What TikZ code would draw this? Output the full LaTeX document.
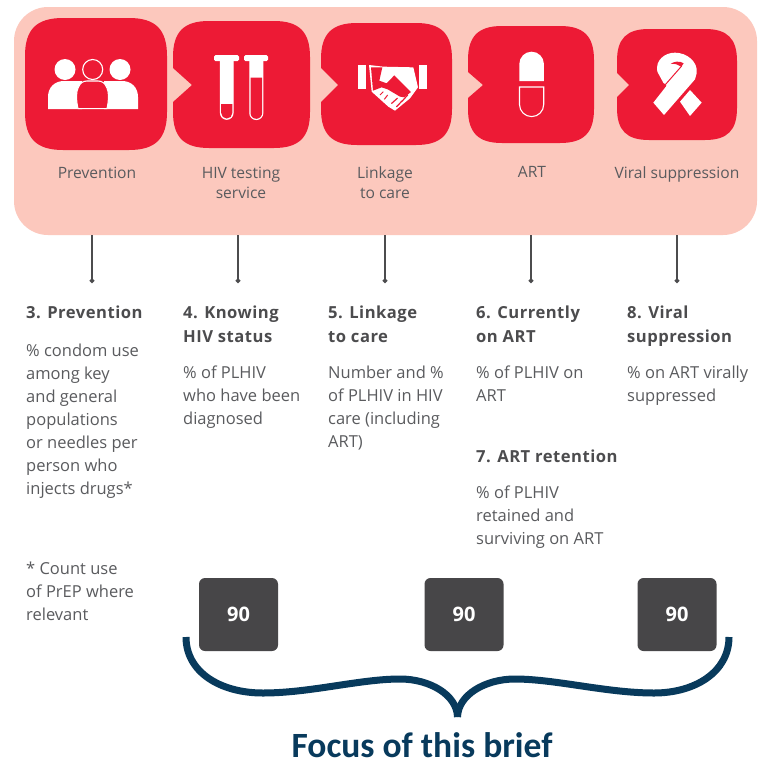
\documentclass[tikz,border=0pt]{standalone}
\usepackage{fontspec}
\usetikzlibrary{arrows.meta}
\setmainfont{Open Sans}
\newfontfamily\focusfont{Carlito}
\newfontfamily\headfont[LetterSpace=3]{Open Sans}
\definecolor{panelc}{HTML}{FCC8BD}
\definecolor{boxred}{HTML}{ED1A35}
\definecolor{txtc}{HTML}{5A5B5E}
\definecolor{headc}{HTML}{4C4C4E}
\definecolor{darkb}{HTML}{474648}
\definecolor{navyc}{HTML}{083A5C}
\newcommand{\redbox}[8]{% x0,y0,x1,y1,r,notch top,tip x,notch bottom
 \fill[boxred] (#1+#5,#2) -- (#3-#5,#2) .. controls (#3-0.3*#5,#2) and (#3,#2+0.3*#5) .. (#3,#2+#5)
  -- (#3,#4-#5) .. controls (#3,#4-0.3*#5) and (#3-0.3*#5,#4) .. (#3-#5,#4)
  -- (#1+#5,#4) .. controls (#1+0.3*#5,#4) and (#1,#4-0.3*#5) .. (#1,#4-#5)
  -- (#1,#8) -- (#7,{(#6+#8)/2}) -- (#1,#6) -- (#1,#2+#5)
  .. controls (#1,#2+0.3*#5) and (#1+0.3*#5,#2) .. (#1+#5,#2) -- cycle;}
\tikzset{
 lbl/.style={text=txtc,font=\fontsize{15.6}{20}\selectfont,align=center,inner sep=0pt,anchor=north},
 head/.style={text=headc,font=\headfont\bfseries\fontsize{16.6}{24}\selectfont,align=left,inner sep=0pt,anchor=north west},
 body/.style={text=txtc,font=\fontsize{16.5}{23}\selectfont,align=left,inner sep=0pt,anchor=north west},
 ninety/.style={fill=darkb,draw=none,rounded corners=6pt,minimum width=79pt,minimum height=73pt,inner sep=0pt,text=white,font=\fontsize{20}{22}\selectfont\bfseries},
 conn/.style={draw=headc,line width=1.4pt,-{Circle[length=4.5pt,width=4.5pt]}},
 whiteline/.style={draw=white,line width=1.1pt}
}
\begin{document}
\begin{tikzpicture}[x=1pt,y=-1pt]
\useasboundingbox (0,0) rectangle (763,761);
\fill[white] (0,0) rectangle (763,761);
\fill[panelc,rounded corners=34pt] (14,7) rectangle (757,235);
% red boxes
\redbox{25}{18}{167}{150}{38}{84}{25}{84}
\redbox{173}{21}{310}{148}{36}{68}{192}{102}
\redbox{321}{23}{452}{145}{36}{68}{338}{102}
\redbox{468}{26}{594}{143}{34}{72}{483}{98}
\redbox{617}{29}{737}{140}{32}{73}{629}{97}
% people icon
\fill[white] (65,69.5) circle (10.5);
\fill[white] (120,69.5) circle (10.5);
\draw[whiteline] (92.7,69.5) circle (10);
\fill[white] (48,109) -- (48,97) .. controls (48,87) and (55,81) .. (64,81) -- (82,81) -- (82,109) -- cycle;
\fill[white] (138,109) -- (138,97) .. controls (138,87) and (131,81) .. (122,81) -- (104,81) -- (104,109) -- cycle;
\filldraw[fill=boxred,whiteline] (78,108.6) .. controls (76,100) and (76,92) .. (78,88) .. controls (80,83) and (83,81) .. (87,81) -- (98,81) .. controls (102,81) and (105,83) .. (107,88) .. controls (109,92) and (109,100) .. (107,108.6) -- cycle;
% tubes
\fill[white,rounded corners=1.5pt] (214,55) rectangle (239,61);
\fill[white,rounded corners=1.5pt] (244,55) rectangle (268,61);
\filldraw[fill=white,whiteline] (220.5,60) -- (233,60) -- (233,113) arc[start angle=0,end angle=180,radius=6.25] -- cycle;
\filldraw[fill=white,whiteline] (249.8,60) -- (262.8,60) -- (262.8,113) arc[start angle=0,end angle=180,radius=6.5] -- cycle;
\fill[boxred] (221.2,104) -- (232.3,104) -- (232.3,113) arc[start angle=0,end angle=180,radius=5.55] -- cycle;
\fill[boxred] (250.5,77.5) -- (262.1,77.5) -- (262.1,113) arc[start angle=0,end angle=180,radius=5.8] -- cycle;
% handshake
\begin{scope}[shift={(345,50)},x=0.3333pt,y=-0.3333pt]
\fill[white] (40,45) rectangle (62,118);
\fill[white] (222,45) rectangle (245,118);
\fill[white] (72,45) -- (115,50) -- (205,52) -- (219,112) -- (195,145) -- (150,182) -- (130,170) -- (80,125) -- cycle;
\fill[boxred] (78,52) -- (112,52) -- (103,92) -- (125,100) -- (148,76) -- (198,126) -- (178,142) -- (165,140) -- (128,118) -- (110,112) -- (84,122) -- cycle;
\draw[boxred,line width=1.2pt,line cap=round] (140,160) -- (157,145) (155,170) -- (172,152) (170,155) -- (188,135);
\draw[boxred,line width=1pt] (115,125) -- (105,135) (128,135) -- (118,148);
\end{scope}
% pill
\fill[white] (519.3,81) -- (519.3,64) arc[start angle=180,end angle=360,radius=12.3] -- (543.9,81) -- cycle;
\draw[whiteline] (519.5,87) -- (543.7,87) -- (543.7,104.5) arc[start angle=0,end angle=180,radius=12.1] -- cycle;
% ribbon
\begin{scope}[shift={(640,40)},x=0.3333pt,y=-0.3333pt]
\fill[white] (40,188) -- (80,137) -- (70,128) -- (52,95) .. controls (45,60) and (75,38) .. (105,38)
 .. controls (140,38) and (175,65) .. (170,100) -- (165,118) -- (72,225) -- cycle;
\fill[white] (120,185) -- (150,150) -- (185,188) -- (150,228) -- cycle;
\fill[boxred] (92,72) .. controls (100,64) and (120,62) .. (131,70) -- (124,80) .. controls (115,74) and (105,70) .. (92,72) -- cycle;
\draw[boxred,line width=1pt] (125,78) -- (76,134);
\end{scope}
% panel labels
\node[lbl] (l1) at (97,166.5) {Prevention};
\node[lbl] (l2) at (241,166.5) {HIV testing\\service};
\node[lbl] (l3) at (385,166.5) {Linkage\\to care};
\node[lbl] (l4) at (532,166.5) {ART};
\node[lbl] (l5) at (677,166.5) {Viral suppression};
% connectors
\foreach \i/\x in {1/92,2/238,3/385,4/531,5/677}{
 \coordinate (a\i) at (\x,235);
 \coordinate (b\i) at (\x,283);
 \draw[conn] (a\i) -- (b\i);
}
% columns
\node[head] (h3) at (26,305.5) {3. Prevention};
\node[body] (t3) at (26,343.5) {\% condom use\\among key\\and general\\populations\\or needles per\\person who\\injects drugs*};
\node[body] (n3) at (26,562) {* Count use\\of PrEP where\\relevant};
\node[head] (h4) at (183,305.5) {4. Knowing\\HIV status};
\node[body] (t4) at (183,365.5) {\% of PLHIV\\who have been\\diagnosed};
\node[head] (h5) at (328,305.5) {5. Linkage\\to care};
\node[body] (t5) at (328,365.5) {Number and \%\\of PLHIV in HIV\\care (including\\ART)};
\node[head] (h6) at (476,305.5) {6. Currently\\on ART};
\node[body] (t6) at (476,365.5) {\% of PLHIV on\\ART};
\node[head] (h7) at (476,449.5) {7. ART retention};
\node[body] (t7) at (476,486) {\% of PLHIV\\retained and\\surviving on ART};
\node[head] (h8) at (627,305.5) {8. Viral\\suppression};
\node[body] (t8) at (627,365.5) {\% on ART virally\\suppressed};
% 90 boxes
\node[ninety] (n1) at (238.5,614.5) {90};
\node[ninety] (n2) at (464,614.5) {90};
\node[ninety] (n5) at (677,614.5) {90};
% brace
\draw[navyc,line width=7pt] (186,637) .. controls (186,672) and (220,693) .. (263,693)
 .. controls (310,693) and (360,679) .. (400,679) .. controls (430,679) and (457,695) .. (457.5,717);
\draw[navyc,line width=7pt] (729,637) .. controls (729,672) and (695,693) .. (654,693)
 .. controls (607,693) and (555,679) .. (515,679) .. controls (485,679) and (458,695) .. (457.5,717);
\node[inner sep=0pt,anchor=base,text=navyc,font=\focusfont\bfseries\fontsize{35.5}{38}\selectfont] (f) at (422,757.5) {Focus of this brief};
\end{tikzpicture}
\end{document}
